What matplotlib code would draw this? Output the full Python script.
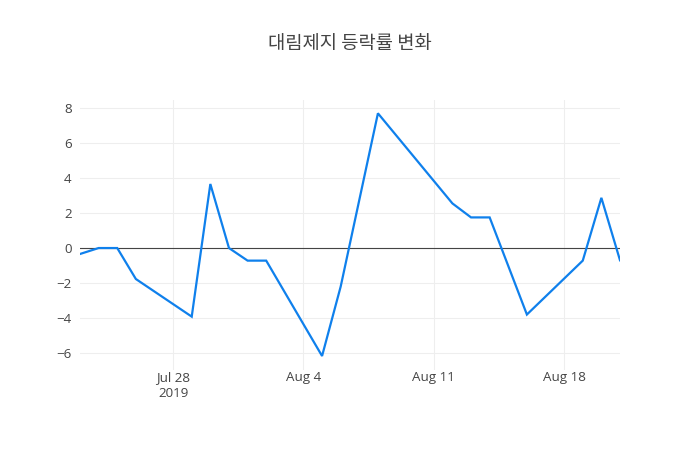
import matplotlib
matplotlib.use("Agg")
import matplotlib.pyplot as plt
import pandas as pd

plt.rcParams['font.family'] = ['Open Sans', 'Noto Sans CJK KR', 'DejaVu Sans']

title = "대림제지 등락률 변화"
dates = ["2019-07-23", "2019-07-24", "2019-07-25", "2019-07-26", "2019-07-29",
         "2019-07-30", "2019-07-31", "2019-08-01", "2019-08-02", "2019-08-05",
         "2019-08-06", "2019-08-08", "2019-08-12", "2019-08-13", "2019-08-14",
         "2019-08-16", "2019-08-19", "2019-08-20", "2019-08-21"]
values = [-0.34, 0.0, 0.0, -1.77, -3.92,
          3.66, 0.0, -0.72, -0.72, -6.17,
          -2.2, 7.7, 2.55, 1.75, 1.75,
          -3.8, -0.72, 2.87, -0.7]
tick_dates = ["2019-07-28", "2019-08-04", "2019-08-11", "2019-08-18"]
tick_labels = ["Jul 28\n2019", "Aug 4", "Aug 11", "Aug 18"]
y_ticks = [-6, -4, -2, 0, 2, 4, 6, 8]
y_tick_labels = ["−6", "−4", "−2", "0", "2", "4", "6", "8"]

x = pd.to_datetime(dates)
xt = pd.to_datetime(tick_dates)

fig = plt.figure(figsize=(7, 4.5), dpi=100)
ax = fig.add_axes([80/700, 80/450, 540/700, 270/450])

ax.plot(x, values, color='#0f80ec', linewidth=1.6, solid_joinstyle='miter', zorder=3)
ax.axhline(0, color='#444444', linewidth=0.8, zorder=2)

ax.set_xlim(x[0], x[-1])
ax.set_ylim(-6.97, 8.46)
ax.set_xticks(xt)
ax.set_xticklabels(tick_labels)
ax.set_yticks(y_ticks)
ax.set_yticklabels(y_tick_labels)

ax.grid(True, color='#eeeeee', linewidth=0.8, zorder=0)
ax.set_axisbelow(True)
for s in ax.spines.values():
    s.set_visible(False)
ax.tick_params(axis='both', length=0, labelsize=9.6, labelcolor='#444444')
ax.tick_params(axis='x', pad=1)
ax.tick_params(axis='y', pad=6)
for lbl in ax.get_xticklabels():
    lbl.set_linespacing(1.25)

fig.text(0.5, 1 - 43/450, title, ha='center', va='center', fontsize=13.5,
         color='#444444', family=['Noto Sans CJK KR', 'DejaVu Sans'])

fig.savefig("out.png", dpi=100)
